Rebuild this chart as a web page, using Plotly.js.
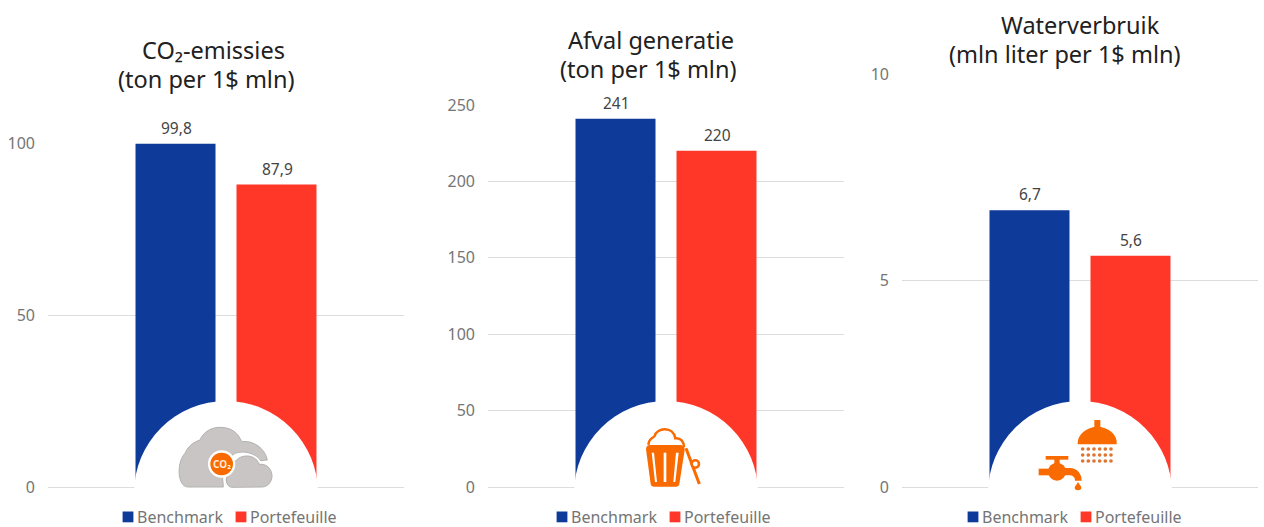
<!DOCTYPE html>
<html>
<head>
<meta charset="utf-8">
<script src="https://cdn.plot.ly/plotly-3.0.1.min.js"></script>
<style>html,body{margin:0;padding:0;background:#fff}#chart{width:1264px;height:527px}</style>
</head>
<body>
<div id="chart"></div>
<script>
const seriesNames = ['Benchmark', 'Portefeuille'];
const seriesColors = ['#0E3A99', '#FF3729'];
const co2Values = [99.8, 87.9];
const wasteValues = [241, 220];
const waterValues = [6.7, 5.6];
const co2Ticks = [0, 50, 100];
const wasteTicks = [0, 50, 100, 150, 200, 250];
const waterTicks = [0, 5, 10];

const W = 1264, H = 527;
const FONT = '"Noto Sans", sans-serif';
const ORANGE = '#F96A00';
const px = x => x / W;
const py = y => 1 - y / H;

// One panel per metric: pixel frame of the plot area plus its two title lines.
const panels = [
  {values: co2Values, ticks: co2Ticks, max: 100, digits: 1, left: 48, top: 143,
   titleLines: [['CO₂-emissies', 213.5, 50], ['(ton per 1$ mln)', 206, 79]], legendX: 107},
  {values: wasteValues, ticks: wasteTicks, max: 250, digits: 0, left: 488, top: 105,
   titleLines: [['Afval generatie', 651, 40], ['(ton per 1$ mln)', 648, 69.5]], legendX: 541},
  {values: waterValues, ticks: waterTicks, max: 10, digits: 1, left: 902, top: 74,
   titleLines: [['Waterverbruik', 1080.5, 25], ['(mln liter per 1$ mln)', 1064.5, 54]], legendX: 952}
];
const PLOT_W = 356, BASE = 487;

const traces = [], layout = {
  width: W, height: H, margin: {l: 0, r: 0, t: 0, b: 0, autoexpand: false},
  paper_bgcolor: '#fff', plot_bgcolor: '#fff',
  barmode: 'group', bargap: 0.4326, bargroupgap: 0.208,
  showlegend: true, shapes: [], annotations: [], font: {family: FONT}
};

panels.forEach((p, i) => {
  const n = i === 0 ? '' : String(i + 1);
  seriesNames.forEach((name, s) => {
    traces.push({
      type: 'bar', name, x: ['v'], y: [p.values[s]],
      xaxis: 'x' + n, yaxis: 'y' + n, legend: 'legend' + n,
      marker: {color: seriesColors[s]}, hoverinfo: 'skip'
    });
    // Value label placed from the bar's own value, raised above the bar top.
    layout.annotations.push({
      xref: 'x' + n, yref: 'y' + n, x: 'v', y: p.values[s],
      xshift: s === 0 ? -50 : 51, yshift: 16, xanchor: 'center', yanchor: 'middle',
      text: p.values[s].toFixed(p.digits).replace('.', ','), showarrow: false,
      font: {family: FONT, size: 15.5, color: '#444'}
    });
  });
  layout['xaxis' + n] = {domain: [px(p.left), px(p.left + PLOT_W)], anchor: 'y' + n,
    visible: false, fixedrange: true};
  layout['yaxis' + n] = {domain: [py(BASE), py(p.top)], anchor: 'x' + n, range: [0, p.max],
    tickvals: p.ticks, ticktext: p.ticks.map(String), ticklabelstandoff: 12,
    gridcolor: '#DDDDDD', gridwidth: 1, zerolinecolor: '#DDDDDD', showline: false, ticks: '',
    tickfont: {family: FONT, size: 16, color: '#757575'}, fixedrange: true};
  layout['legend' + n] = {orientation: 'h', x: px(p.legendX), xanchor: 'left', y: py(517),
    yanchor: 'middle', indentation: -10, entrywidth: 78, entrywidthmode: 'pixels',
    bgcolor: 'rgba(0,0,0,0)', traceorder: 'normal',
    font: {family: FONT, size: 16, color: '#757575'}};
  p.titleLines.forEach(([text, x, y]) => {
    layout.annotations.push({text, xref: 'paper', yref: 'paper', x: px(x), y: py(y),
      xanchor: 'center', yanchor: 'middle', align: 'center', showarrow: false,
      font: {family: FONT, size: 23.5, color: '#212121'}});
  });
  // White half-disc cut into the foot of the bars, holding the metric icon.
  const cx = p.left + PLOT_W / 2;
  layout.shapes.push({type: 'circle', layer: 'above', xref: 'paper', yref: 'paper',
    x0: px(cx - 92), x1: px(cx + 92), y0: py(493 + 92), y1: py(493 - 92),
    fillcolor: '#fff', line: {width: 0}});
});

// Icon outlines are written at triple scale relative to an origin, then mapped to paper space.
function iconPath(ox, oy, d) {
  return d.replace(/(-?[\d.]+),(-?[\d.]+)/g, (_, a, b) =>
    px(ox + a / 3).toFixed(5) + ',' + py(oy + b / 3).toFixed(5));
}
function addPath(ox, oy, d, fill, lineColor, lineWidth) {
  layout.shapes.push({type: 'path', layer: 'above', xref: 'paper', yref: 'paper',
    path: iconPath(ox, oy, d), fillcolor: fill || 'rgba(0,0,0,0)',
    line: {color: lineColor || 'rgba(0,0,0,0)', width: lineWidth || 0}});
}
function addDisc(ox, oy, x, y, r, fill, lineColor, lineWidth) {
  layout.shapes.push({type: 'circle', layer: 'above', xref: 'paper', yref: 'paper',
    x0: px(ox + (x - r) / 3), x1: px(ox + (x + r) / 3),
    y0: py(oy + (y + r) / 3), y1: py(oy + (y - r) / 3),
    fillcolor: fill, line: {color: lineColor || 'rgba(0,0,0,0)', width: lineWidth || 0}});
}

// Cloud icon
{
  const ox = 120, oy = 390, grey = '#C9C5C5', edge = '#B4B2B2';
  addPath(ox, oy, 'M205,291 C170,291 170,215 195,190 C205,165 225,155 240,150 C250,125 275,112 300,112 C335,112 355,130 365,155 C400,150 435,175 442,210 L420,212 C405,190 375,180 345,190 L305,222 L310,291 Z', grey, edge, 1);
  addPath(ox, oy, 'M335,292 C315,290 305,265 325,245 C330,225 345,200 370,197 C395,190 415,205 420,220 C445,218 460,240 458,260 C456,280 440,292 425,292 Z', grey, '#FFFFFF', 2);
  addPath(ox, oy, 'M335,292 C320,290 312,268 328,248 C335,228 348,203 370,199 C395,194 412,207 418,223 C442,220 457,240 456,260 C454,280 440,291 425,291 Z', grey, edge, 1);
  addDisc(ox, oy, 305, 222, 41, '#FFFFFF');
  addDisc(ox, oy, 305, 222, 34, ORANGE);
  layout.annotations.push({text: 'CO₂', xref: 'paper', yref: 'paper', x: px(ox + 305 / 3), y: py(oy + 222 / 3),
    xanchor: 'center', yanchor: 'middle', showarrow: false,
    font: {family: FONT, size: 10, color: '#FFE9D8', weight: 700}});
}

// Waste bucket icon
{
  const ox = 560, oy = 390;
  addPath(ox, oy, 'M266,165 C264,145 280,145 284,138 C290,112 340,108 346,145 C362,143 372,155 372,172', '#FFFFFF', ORANGE, 2.5);
  addPath(ox, oy, 'M258,178 C258,170 262,165 270,165 L362,165 C370,165 374,172 374,180 L358,282 C357,288 353,290 348,290 L282,290 C277,290 273,288 272,282 Z', ORANGE);
  addPath(ox, oy, 'M275,188 L282,188 L291,276 L285,276 Z', '#FFFFFF');
  addPath(ox, oy, 'M311,188 L319,188 L319,276 L311,276 Z', '#FFFFFF');
  addPath(ox, oy, 'M348,188 L356,188 L346,276 L340,276 Z', '#FFFFFF');
  addPath(ox, oy, 'M378,175 L418,282', null, ORANGE, 3);
  addDisc(ox, oy, 406, 222, 11, '#FFFFFF', ORANGE, 2.5);
}

// Shower and tap icon
{
  const ox = 975, oy = 390;
  addPath(ox, oy, 'M358,90 L376,90 L376,116 L358,116 Z', ORANGE);
  addPath(ox, oy, 'M308,163 C306,130 340,110 367,110 C395,110 428,130 425,163 Z', ORANGE);
  [177, 195, 213].forEach(y => {
    [323, 340, 357, 374, 391, 408].forEach(x => addDisc(ox, oy, x, y, 5.5, '#E0732F'));
  });
  addPath(ox, oy, 'M212,198 L280,198 L280,209 L212,209 Z', ORANGE);
  addPath(ox, oy, 'M238,205 L254,205 L254,225 L238,225 Z', ORANGE);
  addDisc(ox, oy, 246, 245, 27, ORANGE);
  addPath(ox, oy, 'M191,236 L230,236 L230,256 L191,256 Z', ORANGE);
  addPath(ox, oy, 'M260,234 L285,234 C305,234 320,250 320,272 L300,272 C300,262 295,256 280,256 L260,256 Z', ORANGE);
  addPath(ox, oy, 'M309,276 C314,284 320,290 319,294 C318,303 300,303 299,294 C298,290 305,284 309,276 Z', ORANGE);
}

Plotly.newPlot('chart', traces, layout, {displayModeBar: false, staticPlot: true}).then(gd => {
  // Pull each legend key closer to its label and let the last label run past the legend box.
  gd.querySelectorAll('.legendsymbols').forEach(el => {
    el.setAttribute('transform', 'translate(13,0) scale(0.9)');
  });
  gd.querySelectorAll('.infolayer .scrollbox').forEach(el => el.removeAttribute('clip-path'));
});
</script>
</body>
</html>
